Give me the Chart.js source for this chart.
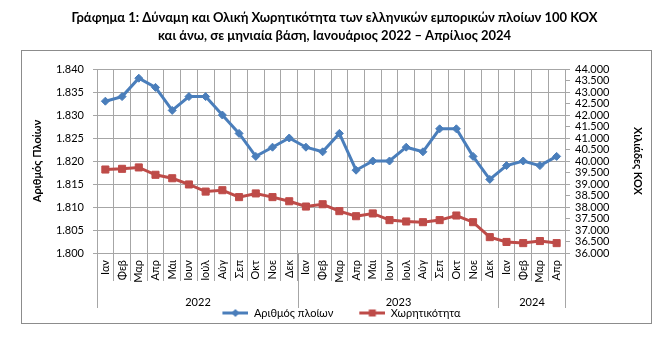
<!DOCTYPE html>
<html>
<head>
<meta charset="utf-8">
<script src="https://cdn.jsdelivr.net/npm/chart.js@4.4.1/dist/chart.umd.min.js"></script>
<style>
  html, body { margin: 0; padding: 0; background: #fff; }
  #wrap { width: 669px; height: 339px; position: relative; }
</style>
</head>
<body>
<div id="wrap"><canvas id="myChart"></canvas></div>
<script>
const months = ['Ιαν', 'Φεβ', 'Μαρ', 'Απρ', 'Μάι', 'Ιουν', 'Ιούλ', 'Αύγ', 'Σεπ', 'Οκτ', 'Νοε', 'Δεκ',
                'Ιαν', 'Φεβ', 'Μαρ', 'Απρ', 'Μάι', 'Ιουν', 'Ιουλ', 'Αύγ', 'Σεπ', 'Οκτ', 'Νοε', 'Δεκ',
                'Ιαν', 'Φεβ', 'Μαρ', 'Απρ'];
const years = ['2022', '2023', '2024'];
const monthsPerYear = [12, 12, 4];

// number of ships (left axis)
const ships = [1833, 1834, 1838, 1836, 1831, 1834, 1834, 1830, 1826, 1821, 1823, 1825,
               1823, 1822, 1826, 1818, 1820, 1820, 1823, 1822, 1827, 1827, 1821, 1816,
               1819, 1820, 1819, 1821];
// gross tonnage, thousands (right axis)
const tonnage = [39630, 39660, 39720, 39400, 39250, 38980, 38670, 38730, 38430, 38590, 38430, 38250,
                 38020, 38120, 37820, 37600, 37720, 37430, 37370, 37340, 37430, 37630, 37340, 36690,
                 36480, 36430, 36520, 36430];

const seriesNames = ['Αριθμός πλοίων', 'Χωρητικότητα'];
const titleLines = ['Γράφημα 1: Δύναμη και Ολική Χωρητικότητα των ελληνικών εμπορικών πλοίων 100 ΚΟΧ',
                    'και άνω, σε μηνιαία βάση, Ιανουάριος 2022 – Απρίλιος 2024'];

const blue = '#4a7ebb';
const red = '#be4b48';
const gridColor = '#a6a6a6';

Chart.defaults.font.family = 'Lato, "Open Sans", sans-serif';
Chart.defaults.color = '#000';

function fmt(v) {
    return String(v).replace(/\B(?=(\d{3})+(?!\d))/g, '.');
}

function legendIcon(color, shape) {
    const c = document.createElement('canvas');
    c.width = 40;
    c.height = 12;
    const g = c.getContext('2d');
    g.strokeStyle = color;
    g.lineWidth = 3;
    g.beginPath();
    g.moveTo(14, 6);
    g.lineTo(40, 6);
    g.stroke();
    g.fillStyle = color;
    if (shape === 'diamond') {
        g.beginPath();
        g.moveTo(27, 2); g.lineTo(31, 6); g.lineTo(27, 10); g.lineTo(23, 6);
        g.closePath();
        g.fill();
    } else {
        g.fillRect(23.5, 2.5, 7, 7);
    }
    return c;
}
const icons = [legendIcon(blue, 'diamond'), legendIcon(red, 'square')];

// outer box and the year row under the month labels
const yearAxis = {
    id: 'yearAxis',
    beforeDraw(chart) {
        const c = chart.ctx;
        c.save();
        c.fillStyle = '#fff';
        c.fillRect(0, 0, chart.width, chart.height);
        c.restore();
    },
    afterDraw(chart) {
        const x = chart.scales.x;
        const c = chart.ctx;
        const half = (x.getPixelForValue(1) - x.getPixelForValue(0)) / 2;
        const top = chart.chartArea.bottom;
        c.save();
        c.strokeStyle = '#8c8c8c';
        c.lineWidth = 1;
        c.strokeRect(21.5, 50.5, 630, 273);

        c.strokeStyle = gridColor;
        c.fillStyle = '#000';
        c.font = '11px Lato, "Open Sans", sans-serif';
        c.textAlign = 'center';
        c.textBaseline = 'middle';
        let start = 0;
        years.forEach((year, i) => {
            const end = start + monthsPerYear[i] - 1;
            const x0 = Math.round(x.getPixelForValue(start) - half) + 0.5;
            const x1 = Math.round(x.getPixelForValue(end) + half) + 0.5;
            c.beginPath();
            c.moveTo(x0, top); c.lineTo(x0, 308);
            c.moveTo(x1, top); c.lineTo(x1, 308);
            c.stroke();
            c.fillText(year, (x0 + x1) / 2, 302);
            start = end + 1;
        });
        c.restore();
    }
};

const ctx = document.getElementById('myChart').getContext('2d');
const myChart = new Chart(ctx, {
    type: 'line',
    data: {
        labels: months,
        datasets: [{
            label: seriesNames[0],
            data: ships,
            yAxisID: 'y',
            borderColor: blue,
            backgroundColor: blue,
            borderWidth: 3,
            pointStyle: 'rectRot',
            pointRadius: 4,
            pointBorderWidth: 1,
            tension: 0
        }, {
            label: seriesNames[1],
            data: tonnage,
            yAxisID: 'y2',
            borderColor: red,
            backgroundColor: red,
            borderWidth: 3,
            pointStyle: 'rect',
            pointRadius: 5,
            pointBorderWidth: 1,
            tension: 0
        }]
    },
    options: {
        responsive: true,
        maintainAspectRatio: false,
        animation: false,
        layout: { padding: { left: 0, right: 0, top: 0, bottom: 10.5 } },
        plugins: {
            title: {
                display: true,
                text: titleLines,
                color: '#000',
                font: { size: 13, weight: 'bold', lineHeight: 1.4 },
                padding: { top: 9, bottom: 23.6 }
            },
            legend: {
                position: 'bottom',
                labels: {
                    usePointStyle: true,
                    pointStyleWidth: 40,
                    padding: 12,
                    color: '#000',
                    font: { size: 11 },
                    generateLabels: chart => Chart.defaults.plugins.legend.labels.generateLabels(chart).map((item, i) => {
                        item.pointStyle = icons[i];
                        return item;
                    })
                }
            },
            tooltip: { enabled: false }
        },
        scales: {
            x: {
                offset: true,
                grid: { offset: true, color: gridColor, tickColor: gridColor, tickLength: 28 },
                border: { color: gridColor },
                ticks: { autoSkip: false, minRotation: 90, maxRotation: 90, padding: -21, font: { size: 11 } },
                afterFit(scale) { scale.height = 42.5; }
            },
            y: {
                position: 'left',
                min: 1800,
                max: 1840,
                grid: { color: gridColor, tickColor: gridColor, tickLength: 4 },
                border: { color: gridColor },
                ticks: { stepSize: 5, autoSkip: false, padding: 9, font: { size: 11 }, callback: v => fmt(v) },
                title: { display: true, text: 'Αριθμός Πλοίων', font: { size: 11, weight: 'bold' }, padding: { top: 30.4, bottom: 0 } },
                afterFit(scale) { scale.width = 97; }
            },
            y2: {
                position: 'right',
                min: 36000,
                max: 44000,
                grid: { drawOnChartArea: false, color: gridColor, tickColor: gridColor, tickLength: 5 },
                border: { color: gridColor },
                ticks: { stepSize: 500, autoSkip: false, padding: 5, font: { size: 11 }, callback: v => fmt(v) },
                title: { display: true, text: 'Χιλιάδες ΚΟΧ', font: { size: 11, weight: 'bold' }, padding: { top: 25, bottom: 0 } },
                afterFit(scale) { scale.width = 104; }
            }
        }
    },
    plugins: [yearAxis]
});
</script>
</body>
</html>
